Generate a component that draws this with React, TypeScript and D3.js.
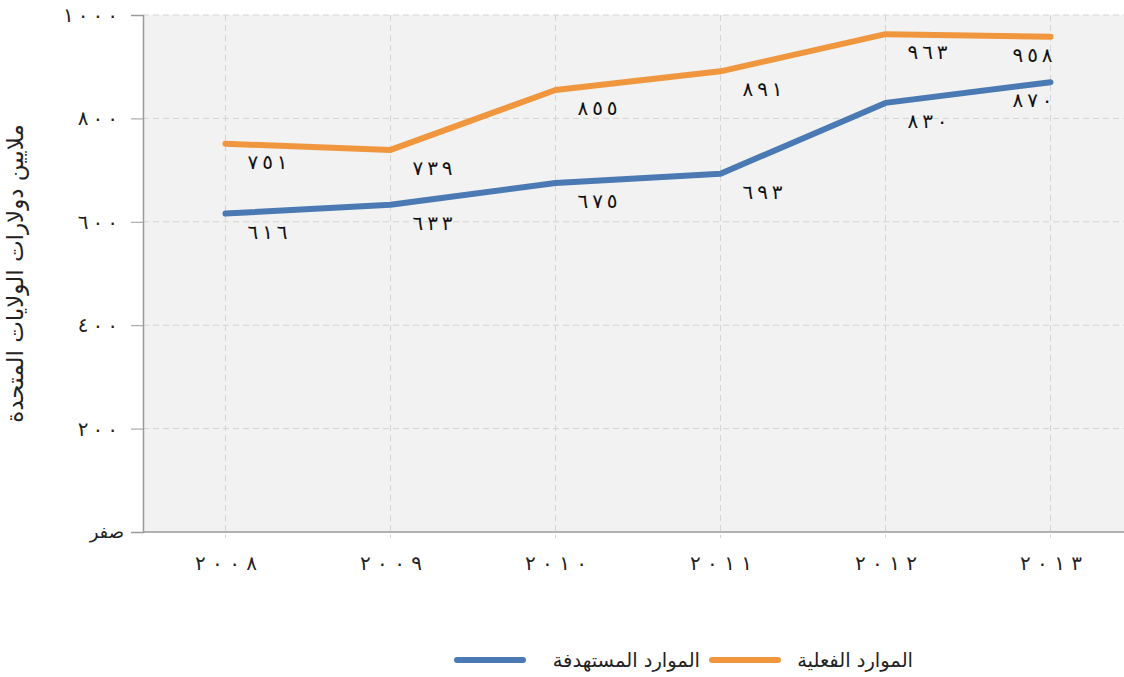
import * as d3 from "d3";
import { useEffect, useRef } from "react";

const years = ["2008", "2009", "2010", "2011", "2012", "2013"];
const actual = [751, 739, 855, 891, 963, 958];
const target = [616, 633, 675, 693, 830, 870];
const yTicks = [0, 200, 400, 600, 800, 1000];
const actualName = "الموارد الفعلية";
const targetName = "الموارد المستهدفة";
const yTitle = "ملايين دولارات الولايات المتحدة";

const W = 1124;
const H = 677;
const margin = { top: 15, right: -9, bottom: 145, left: 143 };
const orange = "#F0963E";
const blue = "#4A79B4";
const font = "'DejaVu Sans', sans-serif";

const ar = d3.formatLocale({
    decimal: "٫",
    thousands: "",
    grouping: [3],
    currency: ["", ""],
    numerals: ["٠", "١", "٢", "٣", "٤", "٥", "٦", "٧", "٨", "٩"],
});
// chrome drops letter-spacing on arabic digits, so space them by hand
// and force left-to-right order (LRO ... PDF) so the spaces don't flip them
const fmt = (v: number, gap = "\u2009") =>
    "\u202D" + ar.format("d")(v).split("").join(gap) + "\u202C";

const App = () => {
    const ref = useRef<SVGSVGElement>(null);

    useEffect(() => {
        const svg = d3.select(ref.current);
        svg.selectAll("*").remove();

        const x = d3.scalePoint<string>()
            .domain(years)
            .range([margin.left, W - margin.right])
            .padding(0.5);
        const y = d3.scaleLinear()
            .domain([0, 1000])
            .range([H - margin.bottom, margin.top]);

        const bottom = H - margin.bottom;

        // plot background
        svg.append("rect")
            .attr("x", margin.left)
            .attr("y", margin.top)
            .attr("width", W - margin.left)
            .attr("height", bottom - margin.top)
            .attr("fill", "#F2F2F2");

        // horizontal grid
        svg.append("g")
            .selectAll("line")
            .data(yTicks.filter(d => d > 0))
            .enter()
            .append("line")
            .attr("x1", margin.left)
            .attr("x2", W)
            .attr("y1", d => y(d))
            .attr("y2", d => y(d))
            .attr("stroke", "#D4D4D4")
            .attr("stroke-dasharray", "6,4");

        // vertical grid
        svg.append("g")
            .selectAll("line")
            .data(years)
            .enter()
            .append("line")
            .attr("x1", d => x(d)!)
            .attr("x2", d => x(d)!)
            .attr("y1", margin.top)
            .attr("y2", bottom + 6)
            .attr("stroke", "#D4D4D4")
            .attr("stroke-dasharray", "6,4");

        // y axis
        const yAxis = d3.axisLeft(y)
            .tickValues(yTicks)
            .tickSize(12)
            .tickFormat(d => (+d === 0 ? "صفر" : fmt(+d)));
        const yg = svg.append("g")
            .attr("transform", `translate(${margin.left},0)`)
            .call(yAxis);
        yg.select(".domain").attr("stroke", "#9A9A9A").attr("stroke-width", 1.5);
        yg.selectAll(".tick line").attr("stroke", "#9A9A9A");
        yg.selectAll(".tick text")
            .attr("font-family", font)
            .attr("font-size", d => (+d === 0 ? 18 : 20))
            .attr("fill", "#222")
            .attr("x", d => (+d === 0 ? -19 : -25));

        // x axis
        const xAxis = d3.axisBottom(x).tickSize(0).tickPadding(24);
        const xg = svg.append("g")
            .attr("transform", `translate(0,${bottom})`)
            .call(xAxis);
        xg.select(".domain").remove();
        xg.selectAll(".tick text")
            .text(d => fmt(+d, " "))
            .attr("font-family", font)
            .attr("font-size", 20)
            .attr("fill", "#222");
        svg.append("line")
            .attr("x1", margin.left)
            .attr("x2", W)
            .attr("y1", bottom)
            .attr("y2", bottom)
            .attr("stroke", "#9A9A9A")
            .attr("stroke-width", 1.5);

        // y title
        svg.append("text")
            .attr("transform", `translate(15,${(margin.top + bottom) / 2}) rotate(-90)`)
            .attr("text-anchor", "middle")
            .attr("dominant-baseline", "central")
            .attr("font-family", font)
            .attr("font-size", 23)
            .attr("fill", "#222")
            .text(yTitle);

        const line = d3.line<number>()
            .x((_, i) => x(years[i])!)
            .y(d => y(d));

        const series = [
            { values: actual, color: orange },
            { values: target, color: blue },
        ];

        series.forEach(s => {
            svg.append("path")
                .datum(s.values)
                .attr("d", line)
                .attr("fill", "none")
                .attr("stroke", s.color)
                .attr("stroke-width", 6)
                .attr("stroke-linecap", "round")
                .attr("stroke-linejoin", "round");

            svg.append("g")
                .selectAll("text")
                .data(s.values)
                .enter()
                .append("text")
                .attr("x", (_, i) => x(years[i])! + (i === years.length - 1 ? -18 : 42))
                .attr("y", d => y(d) + 18)
                .attr("text-anchor", "middle")
                .attr("dominant-baseline", "central")
                .attr("font-family", font)
                .attr("font-size", 20)
                .attr("fill", "#111")
                .text(d => fmt(d));
        });

        // legend (right to left)
        const ly = 660;
        const legend = svg.append("g");
        const items = [
            { name: actualName, color: orange, textRight: 913, lineX: [712, 778] },
            { name: targetName, color: blue, textRight: 700, lineX: [457, 523] },
        ];
        items.forEach(it => {
            legend.append("text")
                .attr("x", it.textRight)
                .attr("y", ly)
                .attr("text-anchor", "end")
                .attr("dominant-baseline", "central")
                .attr("font-family", font)
                .attr("font-size", 19.5)
                .attr("fill", "#222")
                .text(it.name);
            legend.append("line")
                .attr("x1", it.lineX[0])
                .attr("x2", it.lineX[1])
                .attr("y1", ly)
                .attr("y2", ly)
                .attr("stroke", it.color)
                .attr("stroke-width", 6)
                .attr("stroke-linecap", "round");
        });
    }, []);

    return (
        <div style={{ position: "absolute", left: 0, top: 0 }}>
            <svg ref={ref} width={W} height={H} style={{ display: "block", background: "#fff" }}></svg>
        </div>
    );
};

export default App;
